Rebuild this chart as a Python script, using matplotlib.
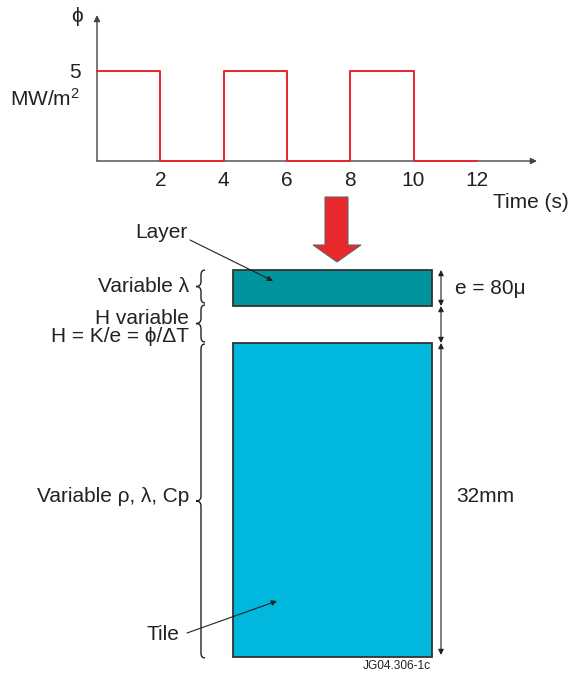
import matplotlib
matplotlib.use("Agg")
import matplotlib.pyplot as plt
from matplotlib.path import Path
import matplotlib.patches as mpatches

plt.rcParams['font.family'] = ['Liberation Sans', 'DejaVu Sans']
plt.rcParams['mathtext.default'] = 'regular'

# ---- data ----
time_s = [0, 2, 4, 6, 8, 10, 12]
flux_MW = [5, 0, 5, 0, 5, 0, 0]
xtick_vals = [2, 4, 6, 8, 10, 12]
ytick_vals = [5]

W, H = 573, 677
fig = plt.figure(figsize=(W / 100, H / 100), dpi=100)
TXT = '#222222'
FS = 15

# ---- top step chart (pixel frame: x 97..537, y 161..15) ----
xmax, ymax = 13.9, 8.1
ax = fig.add_axes([97 / W, 1 - 161 / H, (537 - 97) / W, (161 - 15) / H])
ax.set_xlim(0, xmax)
ax.set_ylim(0, ymax)
for s in ax.spines.values():
    s.set_visible(False)
ax.annotate('', xy=(xmax, 0), xytext=(0, 0),
            arrowprops=dict(arrowstyle='-|>', color='#444444', lw=1.0, mutation_scale=9,
                            shrinkA=0, shrinkB=0), annotation_clip=False)
ax.annotate('', xy=(0, ymax), xytext=(0, 0),
            arrowprops=dict(arrowstyle='-|>', color='#444444', lw=1.0, mutation_scale=9,
                            shrinkA=0, shrinkB=0), annotation_clip=False)
ax.step(time_s, flux_MW, where='post', color='#e8242b', lw=1.4, clip_on=False, zorder=3)
ax.set_xticks(xtick_vals)
ax.set_xticklabels([str(v) for v in xtick_vals], fontsize=FS, color=TXT)
ax.set_yticks(ytick_vals)
ax.set_yticklabels([str(v) for v in ytick_vals], fontsize=FS, color=TXT)
ax.tick_params(axis='x', length=0, pad=7)
ax.tick_params(axis='y', length=0, pad=12)
ax.patch.set_visible(False)

# ---- overlay in pixel coordinates ----
ov = fig.add_axes([0, 0, 1, 1])
ov.set_xlim(0, W)
ov.set_ylim(H, 0)
ov.axis('off')
ov.patch.set_visible(False)

ov.text(77, 17, 'ϕ', fontsize=FS, color=TXT, ha='center', va='center')
ov.text(80, 99, 'MW/m$^2$', fontsize=FS, color=TXT, ha='right', va='center')
ov.text(493, 203, 'Time (s)', fontsize=FS, color=TXT, ha='left', va='center')

# red arrow
arrow_pts = [(325, 197), (348, 197), (348, 245), (361, 245), (337, 262), (313, 245), (325, 245)]
ov.add_patch(mpatches.Polygon(arrow_pts, closed=True, facecolor='#e8282d',
                              edgecolor='#666666', lw=0.8))

# layer and tile
ov.add_patch(mpatches.Rectangle((233, 270), 199, 36, facecolor='#00949e',
                                edgecolor='#333333', lw=1.3))
ov.add_patch(mpatches.Rectangle((233, 343), 199, 314, facecolor='#00b7de',
                                edgecolor='#333333', lw=1.3))

# dimension arrows
for y0, y1 in [(270, 306), (306, 343), (343, 655)]:
    ov.annotate('', xy=(441, y1), xytext=(441, y0),
                arrowprops=dict(arrowstyle='<|-|>', color='#222222', lw=0.8,
                                mutation_scale=8, shrinkA=0, shrinkB=0))
ov.text(455, 289, 'e = 80μ', fontsize=FS, color=TXT, ha='left', va='center')
ov.text(456, 497, '32mm', fontsize=FS, color=TXT, ha='left', va='center')


def brace(y0, y1, xr=205, xm=201, xl=196, r=5):
    ym = (y0 + y1) / 2
    verts = [(xr, y0), (xm, y0), (xm, y0 + r),
             (xm, ym - r),
             (xm, ym), (xl, ym),
             (xm, ym), (xm, ym + r),
             (xm, y1 - r),
             (xm, y1), (xr, y1)]
    codes = [Path.MOVETO, Path.CURVE3, Path.CURVE3,
             Path.LINETO,
             Path.CURVE3, Path.CURVE3,
             Path.CURVE3, Path.CURVE3,
             Path.LINETO,
             Path.CURVE3, Path.CURVE3]
    ov.add_patch(mpatches.PathPatch(Path(verts, codes), facecolor='none',
                                    edgecolor='#222222', lw=1.0))


brace(270, 303)
brace(305, 342)
brace(344, 658)

ov.text(189, 287, 'Variable λ', fontsize=FS, color=TXT, ha='right', va='center')
ov.text(189, 318, 'H variable', fontsize=FS, color=TXT, ha='right', va='center')
ov.text(189, 337, 'H = K/e = ϕ/ΔT', fontsize=FS, color=TXT, ha='right', va='center')
ov.text(189, 497, 'Variable ρ, λ, Cp', fontsize=FS, color=TXT, ha='right', va='center')

ov.text(161, 233, 'Layer', fontsize=FS, color=TXT, ha='center', va='center')
ov.annotate('', xy=(273, 281), xytext=(190, 240),
            arrowprops=dict(arrowstyle='-|>', color='#222222', lw=0.8,
                            mutation_scale=8, shrinkA=0, shrinkB=0))
ov.text(163, 635, 'Tile', fontsize=FS, color=TXT, ha='center', va='center')
ov.annotate('', xy=(277, 601), xytext=(187, 633),
            arrowprops=dict(arrowstyle='-|>', color='#222222', lw=0.8,
                            mutation_scale=8, shrinkA=0, shrinkB=0))

ov.text(397, 666, 'JG04.306-1c', fontsize=8.6, color=TXT, ha='center', va='center')

fig.savefig('out.png', dpi=100)
